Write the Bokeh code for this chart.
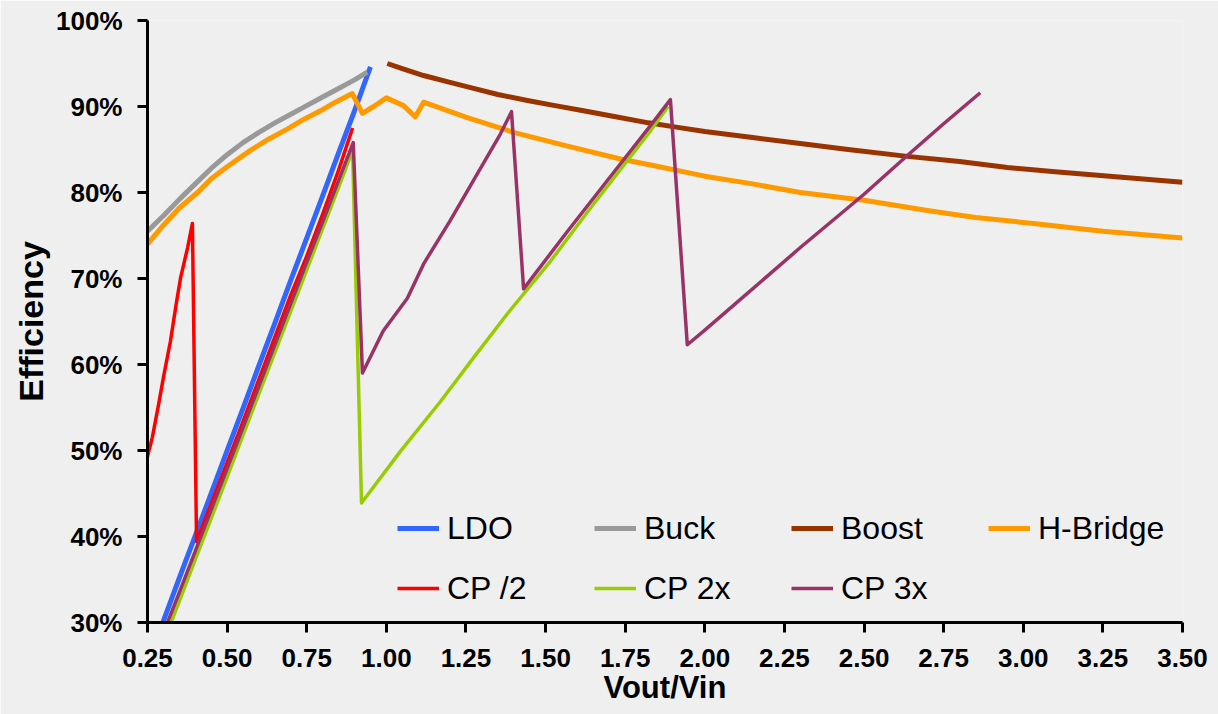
from bokeh.plotting import figure
from bokeh.models import (Range1d, FixedTicker, PrintfTickFormatter, NumeralTickFormatter,
                          Legend, LegendItem)
from bokeh.embed import file_html
from bokeh.resources import INLINE

# ---------------- data ----------------
ldo_x = [0.28, 0.30, 0.35, 0.40, 0.45, 0.50, 0.55, 0.60, 0.65, 0.70, 0.75, 0.80, 0.85, 0.90, 0.95]
ldo_y = [28.2, 30.2, 35.2, 40.1, 45.0, 50.0, 54.9, 59.9, 64.8, 69.8, 74.7, 79.6, 84.6, 89.5, 94.6]

buck_x = [0.25, 0.30, 0.35, 0.40, 0.45, 0.50, 0.55, 0.60, 0.65, 0.70, 0.75, 0.80, 0.85, 0.90, 0.94]
buck_y = [75.5, 77.3, 79.2, 81.0, 82.8, 84.4, 85.8, 87.0, 88.1, 89.1, 90.1, 91.1, 92.1, 93.1, 94.0]

boost_x = [1.003, 1.05, 1.117, 1.20, 1.274, 1.35, 1.443, 1.53, 1.619, 1.72, 1.823, 1.91, 2.00,
           2.15, 2.30, 2.45, 2.636, 2.80, 2.95, 3.10, 3.30, 3.50]
boost_y = [95.0, 94.4, 93.6, 92.8, 92.1, 91.4, 90.7, 90.1, 89.5, 88.8, 88.1, 87.6, 87.1,
           86.4, 85.7, 85.0, 84.2, 83.6, 82.9, 82.4, 81.8, 81.2]

hb_x = [0.25, 0.30, 0.35, 0.407, 0.45, 0.50, 0.573, 0.63, 0.69, 0.74, 0.793, 0.84, 0.893, 0.925,
        0.96, 1.00, 1.054, 1.091, 1.117, 1.254, 1.399, 1.569, 1.735, 1.83, 2.00, 2.15, 2.30,
        2.50, 2.699, 2.85, 3.032, 3.25, 3.50]
hb_y = [74.0, 76.2, 78.2, 80.0, 81.6, 83.0, 84.9, 86.2, 87.4, 88.5, 89.5, 90.5, 91.5, 89.2,
        90.0, 91.0, 90.1, 88.8, 90.5, 88.7, 87.0, 85.4, 83.9, 83.2, 81.9, 81.0, 80.0,
        79.1, 77.9, 77.1, 76.4, 75.5, 74.7]

cp2_x = [0.25, 0.265, 0.285, 0.30, 0.322, 0.34, 0.354, 0.376, 0.391, 0.404, 0.45, 0.50, 0.55,
         0.60, 0.65, 0.70, 0.75, 0.80, 0.85, 0.894]
cp2_y = [49.3, 51.5, 55.4, 58.5, 62.7, 67.0, 70.1, 73.6, 76.4, 39.4, 43.8, 48.6, 53.4,
         58.3, 63.2, 68.1, 72.6, 77.5, 82.6, 87.5]

cp2x_x = [0.30, 0.35, 0.40, 0.45, 0.50, 0.55, 0.60, 0.65, 0.70, 0.75, 0.80, 0.85, 0.894, 0.922,
          1.044, 1.17, 1.274, 1.38, 1.515, 1.641, 1.83, 1.885]
cp2x_y = [27.7, 32.5, 37.3, 42.1, 46.9, 51.8, 56.6, 61.4, 66.2, 71.0, 75.8, 80.6, 84.9, 43.9,
          49.9, 55.7, 60.8, 65.9, 72.0, 78.2, 87.2, 90.0]

cp3x_x = [0.30, 0.35, 0.40, 0.45, 0.50, 0.55, 0.60, 0.65, 0.70, 0.75, 0.80, 0.85, 0.896, 0.925,
          0.99, 1.066, 1.117, 1.20, 1.286, 1.358, 1.393, 1.431, 1.569, 1.694, 1.83, 1.892, 1.945,
          2.00, 2.10, 2.20, 2.30, 2.426, 2.50, 2.636, 2.75, 2.865]
cp3x_y = [28.8, 33.5, 38.3, 43.1, 47.9, 52.7, 57.5, 62.3, 67.1, 71.9, 76.6, 81.4, 85.8, 59.0,
          63.9, 67.7, 71.7, 76.7, 82.2, 86.8, 89.4, 68.8, 75.5, 81.4, 87.8, 90.8, 62.3,
          64.0, 67.2, 70.4, 73.6, 77.5, 79.8, 84.3, 88.0, 91.6]

x_ticks = [0.25, 0.50, 0.75, 1.00, 1.25, 1.50, 1.75, 2.00, 2.25, 2.50, 2.75, 3.00, 3.25, 3.50]
y_ticks = [30, 40, 50, 60, 70, 80, 90, 100]

series = [
    ("LDO", ldo_x, ldo_y, "#3366FF", 5),
    ("Buck", buck_x, buck_y, "#999999", 5),
    ("Boost", boost_x, boost_y, "#993300", 5),
    ("H-Bridge", hb_x, hb_y, "#FF9900", 5),
    ("CP /2", cp2_x, cp2_y, "#FF0000", 3.5),
    ("CP 2x", cp2x_x, cp2x_y, "#99CC00", 3.5),
    ("CP 3x", cp3x_x, cp3x_y, "#993366", 3.5),
]

BG = "#EFEFEF"
FONT = "Liberation Sans"

p = figure(width=1218, height=714, output_backend="svg", toolbar_location=None,
           x_range=Range1d(0.25, 3.5), y_range=Range1d(30, 100),
           min_border_left=147, min_border_right=36, min_border_top=20, min_border_bottom=92)
p.background_fill_color = BG
p.border_fill_color = BG
p.outline_line_color = None
p.xgrid.visible = False
p.ygrid.visible = False

for ax in (p.xaxis[0], p.yaxis[0]):
    ax.axis_line_width = 3
    ax.axis_line_color = "black"
    ax.major_tick_line_width = 3
    ax.major_tick_line_color = "black"
    ax.major_tick_out = 10
    ax.major_tick_in = 0
    ax.minor_tick_line_color = None
    ax.major_label_text_font = FONT
    ax.major_label_text_font_style = "bold"
    ax.major_label_text_font_size = "26px"
    ax.major_label_text_color = "black"
    ax.axis_label_text_font = FONT
    ax.axis_label_text_font_style = "bold"
    ax.axis_label_text_color = "black"

p.xaxis[0].ticker = FixedTicker(ticks=x_ticks)
p.xaxis[0].formatter = NumeralTickFormatter(format="0.00")
p.xaxis[0].major_label_standoff = 16
p.xaxis[0].axis_label = "Vout/Vin"
p.xaxis[0].axis_label_text_font_size = "31px"
p.xaxis[0].axis_label_standoff = 0

p.yaxis[0].ticker = FixedTicker(ticks=y_ticks)
p.yaxis[0].formatter = PrintfTickFormatter(format="%d%%")
p.yaxis[0].major_label_standoff = 15
p.yaxis[0].axis_label = "Efficiency"
p.yaxis[0].axis_label_text_font_size = "34px"
p.yaxis[0].axis_label_standoff = 3

renderers = {}
for name, xs, ys, color, lw in series:
    r = p.line(xs, ys, line_color=color, line_width=lw, line_join="round")
    renderers[name] = r

def make_legend(names, loc):
    return Legend(items=[LegendItem(label=n, renderers=[renderers[n]]) for n in names],
                  location=loc, orientation="horizontal",
                  glyph_width=42, glyph_height=40, label_standoff=8,
                  label_width=147, label_height=40, spacing=0, padding=0, margin=0,
                  background_fill_alpha=0, border_line_alpha=0,
                  label_text_font=FONT, label_text_font_size="32px", label_text_color="black")

p.add_layout(make_legend(["LDO", "Buck", "Boost", "H-Bridge"], (250, 74)))
p.add_layout(make_legend(["CP /2", "CP 2x", "CP 3x"], (250, 14)))

html = file_html(p, INLINE)
html = html.replace("<body>", '<body style="background:#EFEFEF;">', 1)
open("out.html", "w").write(html)
